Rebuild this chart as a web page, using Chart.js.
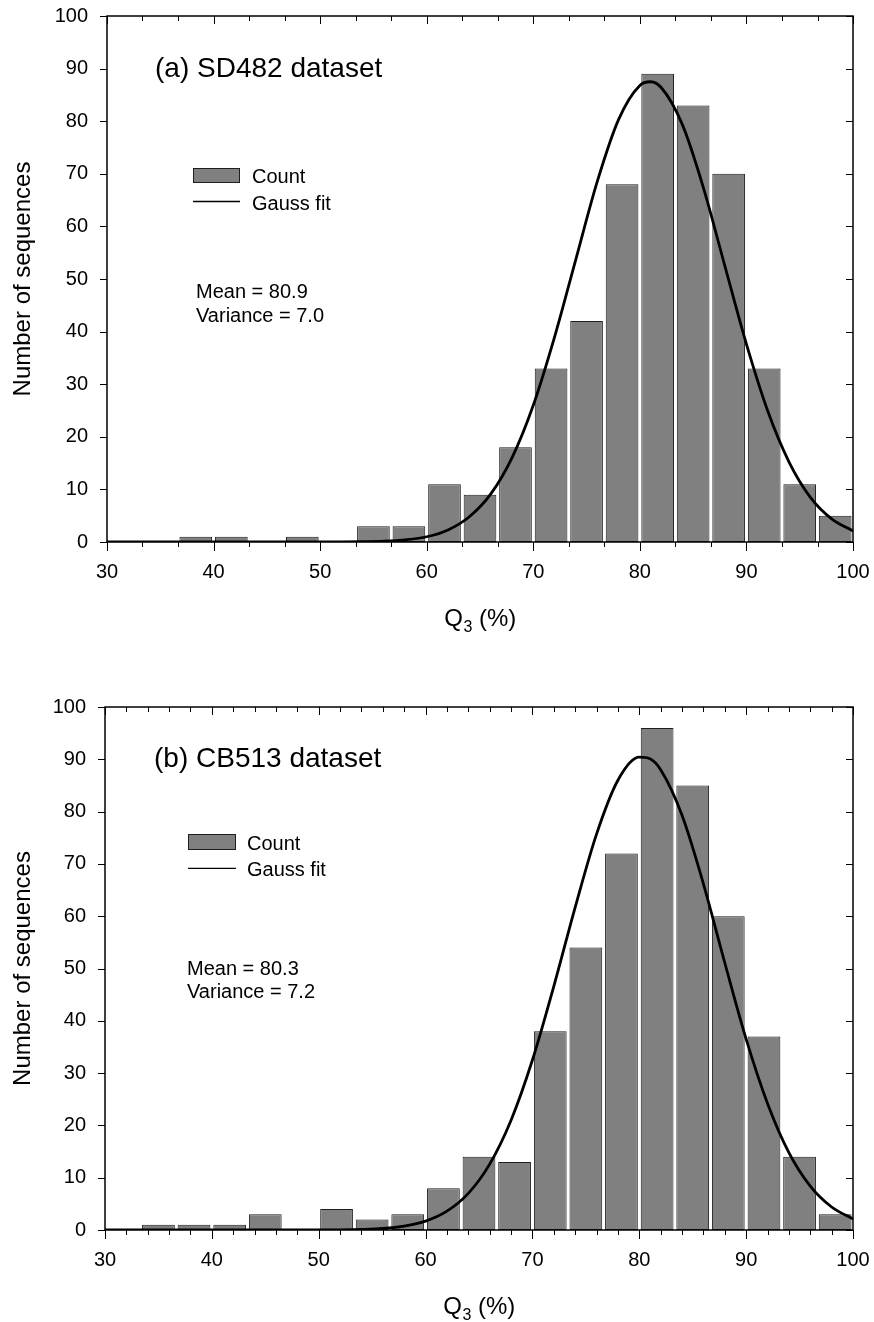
<!DOCTYPE html>
<html><head><meta charset="utf-8">
<script src="https://cdn.jsdelivr.net/npm/chart.js@4/dist/chart.umd.min.js"></script>
<style>
html,body{margin:0;padding:0;background:#fff;}
canvas{position:absolute;left:0;display:block;}
#c1{top:0}
#c2{top:661px}
</style></head><body>
<canvas id="c1" width="874" height="661"></canvas>
<canvas id="c2" width="874" height="661"></canvas>
<script>
// ---- data ----
const binCenters = [31.67,35,38.33,41.67,45,48.33,51.67,55,58.33,61.67,65,68.33,71.67,75,78.33,81.67,85,88.33,91.67,95,98.33];
const countsSD482 = [0,0,1,1,0,1,0,3,3,11,9,18,33,42,68,89,83,70,33,11,5];
const countsCB513 = [0,1,1,1,3,0,4,2,3,8,14,13,38,54,72,96,85,60,37,14,3];
const fitX = [30,35,40,45,50,52,54,56,58,60,62,64,66,68,70,72,74,76,78,80,81,82,84,86,88,90,92,94,96,98,100];
const fitSD482 = [0,0,0,0,0.01,0.02,0.06,0.16,0.42,1.0,2.3,4.8,9.1,16.0,26.0,39.0,53.8,68.5,80.3,86.8,87.5,86.4,79.3,67.1,52.3,37.6,24.9,15.2,8.5,4.4,2.1];
const fitCB513 = [0,0,0,0,0.01,0.04,0.12,0.30,0.75,1.7,3.6,7.0,12.6,21.0,32.5,46.6,61.7,75.7,86.0,90.4,90.1,88.0,79.3,66.2,51.1,36.5,24.2,14.8,8.4,4.4,2.1];
const xTickLabels = [30,40,50,60,70,80,90,100];
const yTickLabels = [0,10,20,30,40,50,60,70,80,90,100];
const minorTicksA = [30,33.33,36.67,40,43.33,46.67,50,53.33,56.67,60,63.33,66.67,70,73.33,76.67,80,83.33,86.67,90,93.33,96.67,100];
const minorTicksB = [30,32,34,36,38,40,42,44,46,48,50,52,54,56,58,60,62,64,66,68,70,72,74,76,78,80,82,84,86,88,90,92,94,96,98,100];
const panelTitles = ['(a) SD482 dataset','(b) CB513 dataset'];
const statsA = ['Mean = 80.9','Variance = 7.0'];
const statsB = ['Mean = 80.3','Variance = 7.2'];
const legendLabels = ['Count','Gauss fit'];
const xTitleParts = ['Q','3',' (%)'];
const yTitle = 'Number of sequences';

const FAM = "'Liberation Sans', Arial, sans-serif";
Chart.defaults.font.family = FAM;
Chart.defaults.color = '#000';

function makePanelPlugin(cfg) {
  return {
    id: 'panel',
    afterDatasetsDraw(chart) {
      const {ctx, chartArea: a, scales: {x, y}} = chart;
      ctx.save();
      ctx.strokeStyle = '#000';
      ctx.lineWidth = 1;
      ctx.beginPath();
      yTickLabels.forEach(v => {
        const p = Math.round(y.getPixelForValue(v)) + 0.5;
        ctx.moveTo(a.left - 7, p); ctx.lineTo(a.left, p);
        ctx.moveTo(a.right, p); ctx.lineTo(a.right - 7, p);
      });
      cfg.minor.forEach(v => {
        const major = Math.abs(v - Math.round(v / 10) * 10) < 0.01;
        const p = Math.round(x.getPixelForValue(v)) + 0.5;
        ctx.moveTo(p, a.bottom); ctx.lineTo(p, a.bottom + (major ? 9 : 5));
        ctx.moveTo(p, a.top); ctx.lineTo(p, a.top + (major ? 8 : 5));
      });
      ctx.stroke();
      ctx.lineWidth = 1.5;
      ctx.strokeRect(a.left, a.top, a.right - a.left, a.bottom - a.top);
      ctx.restore();
    },
    afterDraw(chart) {
      const {ctx, chartArea: a} = chart;
      ctx.save();
      ctx.fillStyle = '#000';
      ctx.textBaseline = 'alphabetic';
      ctx.textAlign = 'left';
      ctx.font = '28px ' + FAM;
      ctx.fillText(cfg.title, cfg.titleX, cfg.titleY);
      ctx.fillStyle = '#808080';
      ctx.fillRect(cfg.lx, cfg.ly, cfg.lw, cfg.lh);
      ctx.strokeStyle = '#1e1e1e';
      ctx.lineWidth = 1;
      ctx.strokeRect(cfg.lx + 0.5, cfg.ly + 0.5, cfg.lw - 1, cfg.lh - 1);
      ctx.strokeStyle = '#000';
      ctx.lineWidth = 1.3;
      ctx.beginPath();
      ctx.moveTo(cfg.lx, cfg.lineY); ctx.lineTo(cfg.lx + cfg.lw, cfg.lineY);
      ctx.stroke();
      ctx.fillStyle = '#000';
      ctx.font = '20px ' + FAM;
      ctx.fillText(legendLabels[0], cfg.tx, cfg.countY);
      ctx.fillText(legendLabels[1], cfg.tx, cfg.gaussY);
      ctx.fillText(cfg.stats[0], cfg.sx, cfg.s1Y);
      ctx.fillText(cfg.stats[1], cfg.sx, cfg.s2Y);
      const big = '24px ' + FAM, small = '16px ' + FAM;
      ctx.font = big;
      const wQ = ctx.measureText(xTitleParts[0]).width;
      const wP = ctx.measureText(xTitleParts[2]).width;
      ctx.font = small;
      const w3 = ctx.measureText(xTitleParts[1]).width;
      let x0 = (a.left + a.right) / 2 - (wQ + w3 + wP) / 2;
      const by = a.bottom + 84;
      ctx.font = big; ctx.fillText(xTitleParts[0], x0, by); x0 += wQ;
      ctx.font = small; ctx.fillText(xTitleParts[1], x0 + 0.5, by + 5.5); x0 += w3 + 0.5;
      ctx.font = big; ctx.fillText(xTitleParts[2], x0, by);
      ctx.restore();
    }
  };
}

function makeChart(id, counts, fit, cfg) {
  return new Chart(document.getElementById(id), {
    type: 'bar',
    data: {
      datasets: [
        {
          type: 'line', label: legendLabels[1],
          data: fitX.map((x, i) => ({x: x, y: fit[i]})),
          borderColor: '#000', borderWidth: 2.8, pointRadius: 0,
          cubicInterpolationMode: 'monotone', fill: false, order: 0
        },
        {
          type: 'bar', label: legendLabels[0],
          data: binCenters.map((x, i) => ({x: x, y: counts[i]})),
          backgroundColor: '#808080', borderColor: '#1e1e1e', borderWidth: 1,
          borderSkipped: false, barPercentage: 0.92, categoryPercentage: 1, order: 1
        }
      ]
    },
    options: {
      responsive: false, animation: false, devicePixelRatio: 1,
      layout: {padding: {top: cfg.top, right: cfg.right, bottom: cfg.bottom, left: 0}},
      plugins: {legend: {display: false}, tooltip: {enabled: false}},
      scales: {
        x: {
          type: 'linear', min: 30, max: 100, offset: false,
          grid: {display: false, drawTicks: false, offset: false},
          border: {display: false},
          ticks: {color: '#000', font: {size: 20}, padding: 18, maxRotation: 0, autoSkip: false},
          afterBuildTicks: s => { s.ticks = xTickLabels.map(v => ({value: v})); },
          afterFit: s => { s.height = 80; s.paddingLeft = 0; s.paddingRight = 0; }
        },
        y: {
          type: 'linear', min: 0, max: 100,
          grid: {display: false, drawTicks: false},
          border: {display: false},
          ticks: {color: '#000', font: {size: 20}, padding: 19},
          afterBuildTicks: s => { s.ticks = yTickLabels.map(v => ({value: v})); },
          title: {display: true, text: yTitle, color: '#000', font: {size: 24}, padding: {top: 8.6, bottom: 0}},
          afterFit: s => { s.width = cfg.left; s.paddingTop = 0; s.paddingBottom = 0; }
        }
      }
    },
    plugins: [makePanelPlugin(cfg)]
  });
}

makeChart('c1', countsSD482, fitSD482, {
  left: 107, top: 16, right: 21, bottom: 39, minor: minorTicksA,
  title: panelTitles[0], titleX: 155, titleY: 77,
  lx: 193, ly: 168, lw: 47, lh: 15, lineY: 201.5, tx: 252, countY: 183, gaussY: 210,
  stats: statsA, sx: 196, s1Y: 298, s2Y: 321.5
});
makeChart('c2', countsCB513, fitCB513, {
  left: 105, top: 46, right: 21, bottom: 12, minor: minorTicksB,
  title: panelTitles[1], titleX: 154, titleY: 105.7,
  lx: 188, ly: 173, lw: 48, lh: 16, lineY: 207.3, tx: 247, countY: 189, gaussY: 215,
  stats: statsB, sx: 187, s1Y: 314, s2Y: 337.3
});
</script>
</body></html>
